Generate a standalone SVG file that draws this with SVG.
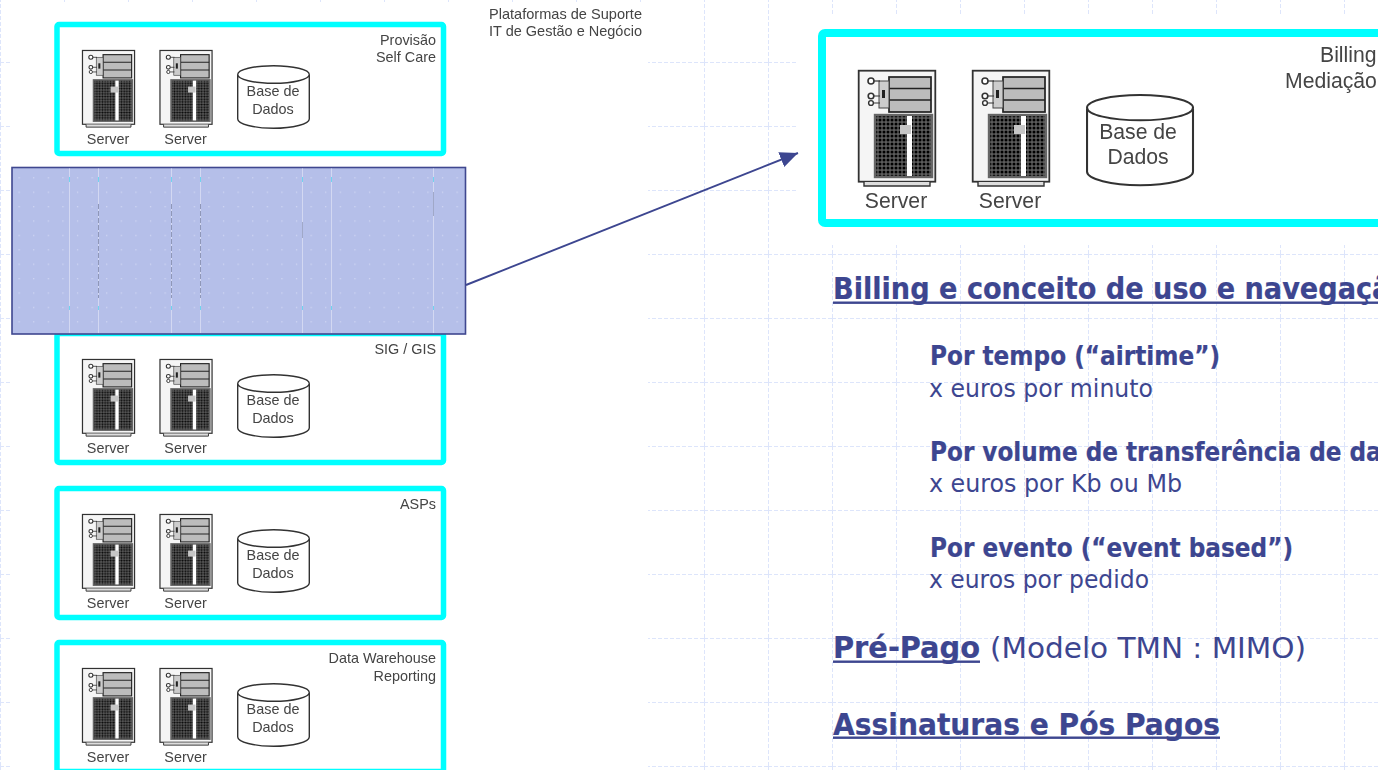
<svg xmlns="http://www.w3.org/2000/svg" xmlns:xlink="http://www.w3.org/1999/xlink" width="1378" height="770" viewBox="0 0 1378 770">
<style>
.box{fill:#fff;stroke:#00ffff;stroke-width:5.5}
.lbl{font-family:"Liberation Sans",Arial,sans-serif;font-size:14.4px;fill:#444}
.mid{text-anchor:middle}
.end{text-anchor:end}
.big{font-size:21.2px}
.slide{font-family:"DejaVu Sans Condensed","DejaVu Sans",sans-serif;fill:#3d4690}
.h1{font-size:30px;font-weight:700;stroke:#3d4690;stroke-width:.2}
.h2{font-size:26px;font-weight:700;stroke:#3d4690;stroke-width:.2}
.t2{font-size:25px}
.t1{font-size:29px}
.ul{fill:#3d4690}
.conn{stroke:#3d4690;stroke-width:1.9;fill:none}
</style>
<defs>
<pattern id="grid" width="64" height="64" patternUnits="userSpaceOnUse" y="-2">
<path d="M0.5 0V64M0 0.5H64" fill="none" stroke="#dde5fb" stroke-width="1" stroke-dasharray="4 2"/>
</pattern>
<pattern id="dots" width="14.6" height="14.4" patternUnits="userSpaceOnUse" x="1" y="1.5">
<rect x="3" y="3" width="1.1" height="1.1" fill="#d8ddf5"/>
</pattern>
<pattern id="grille" width="4" height="4" patternUnits="userSpaceOnUse">
<rect width="4" height="4" fill="#5c5c5c"/>
<circle cx="2" cy="2" r="1.5" fill="#050505"/>
</pattern>
<filter id="soft" x="-5%" y="-5%" width="110%" height="110%"><feGaussianBlur stdDeviation="0.6"/></filter>
<marker id="arrow" markerUnits="userSpaceOnUse" markerWidth="20" markerHeight="18" refX="18" refY="8" orient="auto">
<path d="M0 0L18 8L0 16Z" fill="#3d4690"/>
</marker>
<g id="server">
<rect x="0.7" y="0.7" width="76.6" height="111" fill="#f5f5f5" stroke="#333" stroke-width="1.8"/>
<path d="M6 112V116H72V112" fill="#ddd" stroke="#333" stroke-width="1.4"/>
<rect x="31" y="7" width="42" height="35" fill="#bcbcbc" stroke="#222" stroke-width="1.7"/>
<path d="M31 18.5H73M31 30H73" stroke="#222" stroke-width="1.7"/>
<rect x="21" y="11" width="10" height="27" fill="#ccc" stroke="#444" stroke-width="1"/>
<rect x="24" y="20" width="3" height="8" fill="#222"/>
<circle cx="13" cy="11" r="3" fill="#fff" stroke="#333" stroke-width="1.6"/>
<path d="M16 11H22" stroke="#333" stroke-width="1.2"/>
<circle cx="13" cy="26" r="2.8" fill="#fff" stroke="#333" stroke-width="1.6"/>
<circle cx="13" cy="33" r="2.4" fill="#fff" stroke="#333" stroke-width="1.4"/>
<path d="M16 26H22M16 33H22" stroke="#333" stroke-width="1.2"/>
<rect x="17" y="45" width="57" height="62" fill="url(#grille)" stroke="#666" stroke-width="2.4"/>
<rect x="49" y="46" width="5" height="60" fill="#fff"/>
<rect x="42" y="55" width="11" height="9" fill="#c6c6c6"/>
</g>
<g id="cyl">
<path d="M0.7 10V54C0.7 59 17 63.300 36.500 63.300S72.300 59 72.300 54V10" fill="#fff" stroke="#333" stroke-width="1.400"/>
<ellipse cx="36.500" cy="9.500" rx="35.800" ry="8.800" fill="#fff" stroke="#333" stroke-width="1.400"/>
</g>
</defs>

<rect id="background" width="1378" height="770" fill="#fff"/>
<rect width="1378" height="770" fill="url(#grid)"/>
<rect x="12" y="3" width="636" height="767" fill="#fff"/>
<rect x="798" y="15" width="580" height="230" fill="#fff"/>

<g id="node-provisao" filter="url(#soft)">
<rect class="box" x="57" y="24.500" width="386.500" height="129" rx="2"/>
<use xlink:href="#server" href="#server" transform="translate(82,50) scale(.68,.665)"/>
<use xlink:href="#server" href="#server" transform="translate(159.500,50) scale(.68,.665)"/>
<use xlink:href="#cyl" href="#cyl" transform="translate(237,65)"/>
<text class="lbl mid" x="108" y="144">Server</text><text class="lbl mid" x="185.500" y="144">Server</text>
<text class="lbl mid" x="273" y="96">Base de</text><text class="lbl mid" x="273" y="114">Dados</text>
<text class="lbl end" x="436" y="45">Provisão</text><text class="lbl end" x="436" y="62">Self Care</text>
</g>

<g id="node-sig" filter="url(#soft)" transform="translate(0,309)">
<rect class="box" x="57" y="24.500" width="386.500" height="129" rx="2"/>
<use xlink:href="#server" href="#server" transform="translate(82,50) scale(.68,.665)"/>
<use xlink:href="#server" href="#server" transform="translate(159.500,50) scale(.68,.665)"/>
<use xlink:href="#cyl" href="#cyl" transform="translate(237,65)"/>
<text class="lbl mid" x="108" y="144">Server</text><text class="lbl mid" x="185.500" y="144">Server</text>
<text class="lbl mid" x="273" y="96">Base de</text><text class="lbl mid" x="273" y="114">Dados</text>
<text class="lbl end" x="436" y="45">SIG / GIS</text>
</g>

<g id="node-asps" filter="url(#soft)" transform="translate(0,464)">
<rect class="box" x="57" y="24.500" width="386.500" height="129" rx="2"/>
<use xlink:href="#server" href="#server" transform="translate(82,50) scale(.68,.665)"/>
<use xlink:href="#server" href="#server" transform="translate(159.500,50) scale(.68,.665)"/>
<use xlink:href="#cyl" href="#cyl" transform="translate(237,65)"/>
<text class="lbl mid" x="108" y="144">Server</text><text class="lbl mid" x="185.500" y="144">Server</text>
<text class="lbl mid" x="273" y="96">Base de</text><text class="lbl mid" x="273" y="114">Dados</text>
<text class="lbl end" x="436" y="45">ASPs</text>
</g>

<g id="node-dw" filter="url(#soft)" transform="translate(0,618)">
<rect class="box" x="57" y="24.500" width="386.500" height="129" rx="2"/>
<use xlink:href="#server" href="#server" transform="translate(82,50) scale(.68,.665)"/>
<use xlink:href="#server" href="#server" transform="translate(159.500,50) scale(.68,.665)"/>
<use xlink:href="#cyl" href="#cyl" transform="translate(237,65)"/>
<text class="lbl mid" x="108" y="144">Server</text><text class="lbl mid" x="185.500" y="144">Server</text>
<text class="lbl mid" x="273" y="96">Base de</text><text class="lbl mid" x="273" y="114">Dados</text>
<text class="lbl end" x="436" y="45">Data Warehouse</text><text class="lbl end" x="436" y="63">Reporting</text>
</g>

<g id="node-plataformas" filter="url(#soft)">
<text class="lbl" x="489" y="18.500" textLength="153" lengthAdjust="spacingAndGlyphs">Plataformas de Suporte</text>
<text class="lbl" x="489" y="36" textLength="153" lengthAdjust="spacingAndGlyphs">IT de Gestão e Negócio</text>
</g>

<g id="node-highlight">
<rect x="12" y="167.500" width="453.500" height="166.500" fill="#b5bfe9" stroke="#3f478f" stroke-width="1.600"/>
<rect x="13" y="169" width="451" height="164" fill="url(#dots)"/>
<path d="M69.500 168.500V333M98.500 168.500V333M171.500 168.500V333M200.500 168.500V333M302.500 168.500V333M331.500 168.500V333M433.500 168.500V333" stroke="#d3d8f2" stroke-width="1"/>
<path d="M98.500 204V298M171.500 204V298M200.500 204V298" stroke="#8f97b8" stroke-width="1" stroke-dasharray="5 2"/>
<path d="M302.500 222V238M433.500 192V216" stroke="#a0a8c8" stroke-width="1"/>
<path d="M69.500 177V182M98.500 177V182M171.500 177V182M200.500 177V182M302.500 177V182M331.500 177V182M433.500 177V182M69.500 306V310M98.500 306V310M171.500 306V310M200.500 306V310M302.500 306V310M331.500 306V310M433.500 306V310" stroke="#6fd5ee" stroke-width="1"/>
</g>

<g id="node-billing" filter="url(#soft)">
<rect x="822" y="33" width="600" height="190" rx="3" fill="#fff" stroke="#00ffff" stroke-width="8"/>
<use xlink:href="#server" href="#server" transform="translate(858,70)"/>
<use xlink:href="#server" href="#server" transform="translate(972,70)"/>
<use xlink:href="#cyl" href="#cyl" transform="translate(1086,94) scale(1.48,1.44)"/>
<text class="lbl big mid" x="896" y="208">Server</text><text class="lbl big mid" x="1010" y="208">Server</text>
<text class="lbl big mid" x="1138" y="139">Base de</text><text class="lbl big mid" x="1138" y="164">Dados</text>
<text class="lbl big" x="1320" y="62">Billing</text><text class="lbl big" x="1285" y="88">Mediação</text>
</g>

<g id="connectors">
<path class="conn" d="M466 285L798 153" marker-end="url(#arrow)"/>
</g>

<g id="node-text">
<text class="slide h1" x="833" y="299" textLength="576" lengthAdjust="spacingAndGlyphs">Billing e conceito de uso e navegação</text>
<rect class="ul" x="833" y="301.500" width="572" height="2.400"/>
<text class="slide h2" x="930" y="365" textLength="290" lengthAdjust="spacingAndGlyphs">Por tempo (“airtime”)</text>
<text class="slide t2" x="929" y="397" textLength="224" lengthAdjust="spacingAndGlyphs">x euros por minuto</text>
<text class="slide h2" x="930" y="461" textLength="498" lengthAdjust="spacingAndGlyphs">Por volume de transferência de dados</text>
<text class="slide t2" x="929" y="492" textLength="253" lengthAdjust="spacingAndGlyphs">x euros por Kb ou Mb</text>
<text class="slide h2" x="930" y="557" textLength="363" lengthAdjust="spacingAndGlyphs">Por evento (“event based”)</text>
<text class="slide t2" x="929" y="588" textLength="220" lengthAdjust="spacingAndGlyphs">x euros por pedido</text>
<text class="slide h1" x="833" y="658" textLength="147" lengthAdjust="spacingAndGlyphs">Pré-Pago</text>
<rect class="ul" x="833" y="660.500" width="147" height="2.400"/>
<text class="slide t1" x="990" y="658" textLength="316" lengthAdjust="spacingAndGlyphs">(Modelo TMN : MIMO)</text>
<text class="slide h1" x="833" y="735" textLength="387" lengthAdjust="spacingAndGlyphs">Assinaturas e Pós Pagos</text>
<rect class="ul" x="833" y="736.500" width="387" height="2.400"/>
</g>
</svg>
